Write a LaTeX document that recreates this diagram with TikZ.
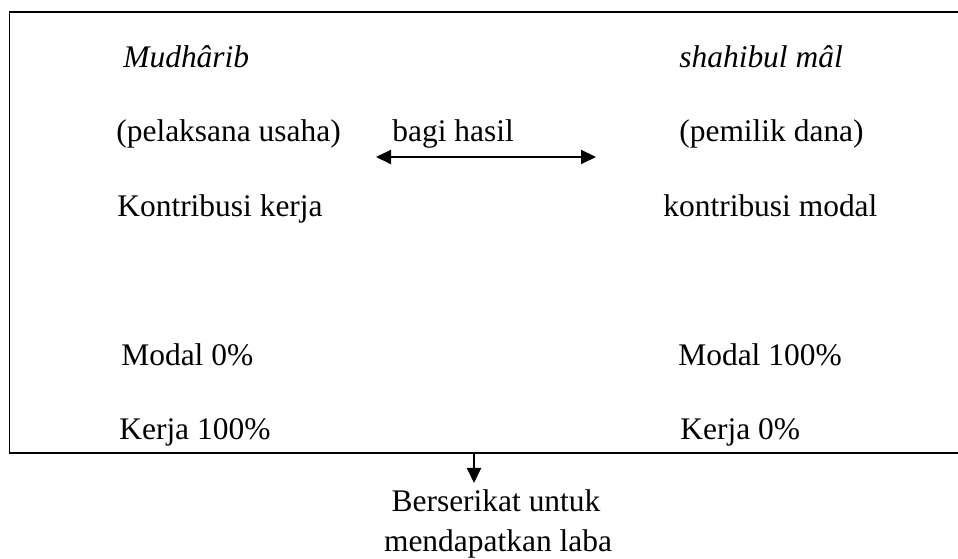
\documentclass[tikz,border=0pt]{standalone}
\usepackage{fontspec}
\setmainfont{Liberation Serif}
\usetikzlibrary{arrows.meta,positioning}

\tikzset{
    teks/.style={anchor=base west, inner sep=0pt, font=\fontsize{17.9}{22.8}\selectfont},
    panah/.style={line width=0.04cm, -{Triangle[length=0.3cm,width=0.28cm]}}
}

\begin{document}
\begin{tikzpicture}[scale=1.0]
        \useasboundingbox (0,0) rectangle (19.16,11.18);

        % Kotak
        \begin{scope}
            \draw [line width=0.04cm] (0.19,2.12) rectangle (19.60,10.94);
        \end{scope}

        % Mudharib
        \begin{scope}
            \node[teks] (mudharib) at (2.46,9.82) {\itshape Mudhârib};
            \node[teks] (pelaksana) at (2.32,8.34) {(pelaksana usaha)};
            \node[teks] (kerja) at (2.34,6.84) {Kontribusi kerja};
            \node[teks] (modalA) at (2.42,3.86) {Modal 0\%};
            \node[teks] (kerjaA) at (2.38,2.38) {Kerja 100\%};
        \end{scope}

        % Shahibul mal
        \begin{scope}
            \node[teks] (shahibul) at (13.58,9.82) {\itshape shahibul mâl};
            \node[teks] (pemilik) at (13.58,8.34) {(pemilik dana)};
            \node[teks] (modal) at (13.26,6.84) {kontribusi modal};
            \node[teks] (modalB) at (13.56,3.86) {Modal 100\%};
            \node[teks] (kerjaB) at (13.60,2.38) {Kerja 0\%};
        \end{scope}

        % Bagi hasil
        \node[teks] (bagi) at (7.84,8.34) {bagi hasil};
        \coordinate (bagiL) at (7.52,8.04);
        \coordinate (bagiR) at (11.92,8.04);
        \draw[panah, {Triangle[length=0.3cm,width=0.28cm]}-{Triangle[length=0.3cm,width=0.28cm]}] (bagiL) -- (bagiR);

        % Laba
        \coordinate (bawah) at (9.48,2.12);
        \coordinate (ujung) at (9.48,1.52);
        \draw[panah] (bawah) -- (ujung);
        \node[teks, anchor=base] (laba) at (9.92,0.94) {Berserikat untuk};
        \node[teks, anchor=base] (laba2) at (9.96,0.14) {mendapatkan laba};
    \end{tikzpicture}
\end{document}
